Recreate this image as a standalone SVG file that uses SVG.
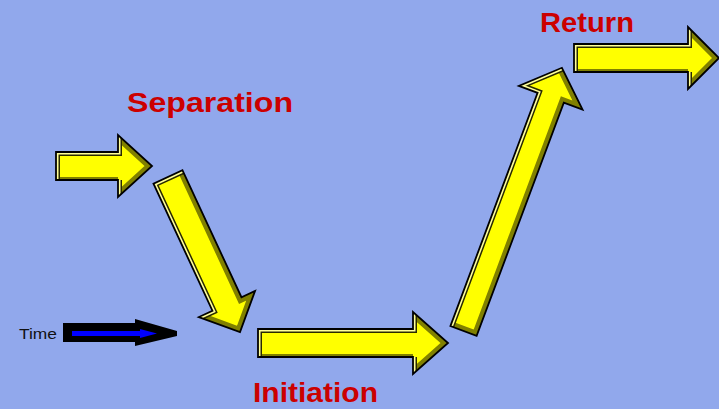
<svg xmlns="http://www.w3.org/2000/svg" xmlns:xlink="http://www.w3.org/1999/xlink" width="719" height="409" viewBox="0 0 719 409">
<style>
.fill{fill:#FFFF00;stroke:none}
.out{fill:none;stroke:#000;stroke-width:1.8;stroke-linejoin:miter}
.dk{fill:none;stroke:#808000;stroke-width:10;stroke-linejoin:miter}
.dk2{fill:none;stroke:#808000;stroke-width:6;stroke-linejoin:miter}
.lo{fill:none;stroke:#2a2a00;stroke-width:8;stroke-linejoin:miter}
.li{fill:none;stroke:#FFFF99;stroke-width:5;stroke-linejoin:miter}
.lbl{font-family:"Liberation Sans",Arial,sans-serif;font-weight:bold;font-size:28px;fill:#CC0000}
.time{font-family:"Liberation Sans",Arial,sans-serif;font-size:14px;fill:#111}
</style>
<defs>
<polygon id="p1" points="0,-14 62,-14 62,-31 96,0 62,31 62,14 0,14"/>
<polygon id="p2" points="0,-16 140,-16 140,-31 171,0 140,31 140,16 0,16"/>
<polygon id="p3" points="0,-14 155,-14 155,-31 190,0 155,31 155,14 0,14"/>
<polygon id="p4" points="0,-14 249,-14 249,-34 281,0 249,34 249,14 0,14"/>
<polygon id="p5" points="0,-14 114,-14 114,-31 145,0 114,31 114,14 0,14"/>
<clipPath id="c1"><use xlink:href="#p1"/></clipPath>
<clipPath id="c2"><use xlink:href="#p2"/></clipPath>
<clipPath id="c3"><use xlink:href="#p3"/></clipPath>
<clipPath id="c4"><use xlink:href="#p4"/></clipPath>
<clipPath id="c5"><use xlink:href="#p5"/></clipPath>
</defs>
<rect x="0" y="0" width="719" height="409" fill="#91A8EC"/>

<g id="connectors">
  <g id="arrow1" transform="translate(56,166)">
    <use xlink:href="#p1" class="fill"/>
    <g clip-path="url(#c1)">
      <polyline class="dk" points="62,-31 96,0 62,31"/>
      <polyline class="dk2" points="62,14 0,14"/>
      <polyline class="lo" points="0,14 0,-14 62,-14 62,-31"/>
      <polyline class="li" points="0,14 0,-14 62,-14 62,-31"/>
      <polyline class="lo" points="62,31 62,14"/>
      <polyline class="li" points="62,31 62,14"/>
    </g>
    <use xlink:href="#p1" class="out"/>
  </g>
  <g id="arrow2" transform="translate(168,177) rotate(65.1)">
    <use xlink:href="#p2" class="fill"/>
    <g clip-path="url(#c2)">
      <polyline class="dk" points="0,-16 140,-16 140,-31 171,0 140,31"/>
      <polyline class="lo" points="140,31 140,16 0,16 0,-16"/>
      <polyline class="li" points="140,31 140,16 0,16 0,-16"/>
    </g>
    <use xlink:href="#p2" class="out"/>
  </g>
  <g id="arrow3" transform="translate(258,343)">
    <use xlink:href="#p3" class="fill"/>
    <g clip-path="url(#c3)">
      <polyline class="dk" points="155,-31 190,0 155,31"/>
      <polyline class="dk2" points="155,14 0,14"/>
      <polyline class="lo" points="0,14 0,-14 155,-14 155,-31"/>
      <polyline class="li" points="0,14 0,-14 155,-14 155,-31"/>
      <polyline class="lo" points="155,31 155,14"/>
      <polyline class="li" points="155,31 155,14"/>
    </g>
    <use xlink:href="#p3" class="out"/>
  </g>
  <g id="arrow4" transform="translate(463.5,331) rotate(-69.5)">
    <use xlink:href="#p4" class="fill"/>
    <g clip-path="url(#c4)">
      <polyline class="dk" points="281,0 249,34 249,14 0,14 0,-14"/>
      <polyline class="lo" points="0,-14 249,-14 249,-34 281,0"/>
      <polyline class="li" points="0,-14 249,-14 249,-34 281,0"/>
    </g>
    <use xlink:href="#p4" class="out"/>
  </g>
  <g id="arrow5" transform="translate(574,58)">
    <use xlink:href="#p5" class="fill"/>
    <g clip-path="url(#c5)">
      <polyline class="dk" points="114,-31 145,0 114,31"/>
      <polyline class="dk2" points="114,14 0,14"/>
      <polyline class="lo" points="0,14 0,-14 114,-14 114,-31"/>
      <polyline class="li" points="0,14 0,-14 114,-14 114,-31"/>
      <polyline class="lo" points="114,31 114,14"/>
      <polyline class="li" points="114,31 114,14"/>
    </g>
    <use xlink:href="#p5" class="out"/>
  </g>
</g>

<g id="time">
  <text class="time" x="19" y="339" textLength="38" lengthAdjust="spacingAndGlyphs">Time</text>
  <polygon points="63,323 135,323 135,319 177,331 177,336 135,346 135,342 63,342" fill="#000"/>
  <polygon points="72,331 140,331 140,329 157,333.5 140,338 140,336 72,336" fill="#0000FF"/>
</g>

<g id="separation"><text class="lbl" x="127" y="112" textLength="166" lengthAdjust="spacingAndGlyphs">Separation</text></g>
<g id="initiation"><text class="lbl" x="253" y="402" font-size="27" textLength="125" lengthAdjust="spacingAndGlyphs">Initiation</text></g>
<g id="return"><text class="lbl" x="540" y="32" textLength="94" lengthAdjust="spacingAndGlyphs">Return</text></g>
</svg>
